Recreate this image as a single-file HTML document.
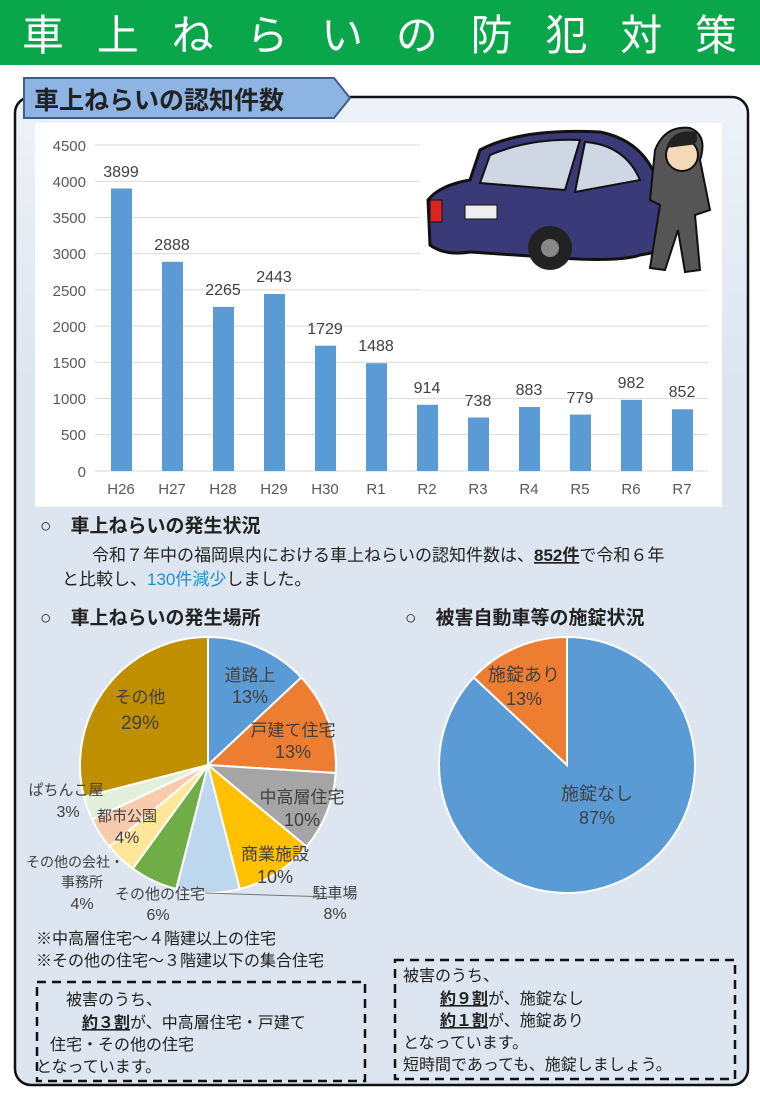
<!DOCTYPE html>
<html><head><meta charset="utf-8"><style>
body{margin:0;width:760px;height:1100px;background:#fff;overflow:hidden;font-family:"Liberation Sans","Noto Sans CJK JP",sans-serif;}
svg text{font-family:"Liberation Sans","Noto Sans CJK JP",sans-serif;}
</style></head><body>
<svg width="760" height="1100" viewBox="0 0 760 1100" xmlns="http://www.w3.org/2000/svg">
<defs><linearGradient id="bg" x1="0" y1="0" x2="0" y2="1"><stop offset="0" stop-color="#eef2f8"/><stop offset="0.3" stop-color="#dce5f0"/><stop offset="1" stop-color="#dce5f0"/></linearGradient></defs>
<rect x="0" y="0" width="760" height="65" fill="#0aa64a"/>
<text x="22" y="50" font-size="42" fill="#fff" letter-spacing="0" textLength="715">車 上 ね ら い の 防 犯 対 策</text>
<rect x="15" y="97" width="733" height="988" rx="16" fill="url(#bg)" stroke="#111" stroke-width="2.5"/>
<polygon points="24,78 334,78 350,98 334,118 24,118" fill="#8db4e2" stroke="#3f5f8a" stroke-width="2"/>
<text x="34" y="109" font-size="25" font-weight="bold" fill="#222">車上ねらいの認知件数</text>
<rect x="35" y="123" width="687" height="384" fill="#fff"/>
<g font-size="15" fill="#595959">
<g stroke="#d9d9d9" stroke-width="1">
<line x1="95" y1="145" x2="708" y2="145"/><line x1="95" y1="181.2" x2="708" y2="181.2"/><line x1="95" y1="217.4" x2="708" y2="217.4"/><line x1="95" y1="253.7" x2="708" y2="253.7"/><line x1="95" y1="289.9" x2="708" y2="289.9"/><line x1="95" y1="326.1" x2="708" y2="326.1"/><line x1="95" y1="362.3" x2="708" y2="362.3"/><line x1="95" y1="398.6" x2="708" y2="398.6"/><line x1="95" y1="434.8" x2="708" y2="434.8"/><line x1="95" y1="471" x2="708" y2="471"/>
</g>
<g text-anchor="end">
<text x="86" y="151">4500</text><text x="86" y="187">4000</text><text x="86" y="223">3500</text><text x="86" y="259">3000</text><text x="86" y="296">2500</text><text x="86" y="332">2000</text><text x="86" y="368">1500</text><text x="86" y="404">1000</text><text x="86" y="440">500</text><text x="86" y="477">0</text>
</g>
<g fill="#5b9bd5">
<rect x="111" y="188.5" width="21" height="282.5"/>
<rect x="162" y="261.8" width="21" height="209.2"/>
<rect x="213" y="306.9" width="21" height="164.1"/>
<rect x="264" y="294" width="21" height="177"/>
<rect x="315" y="345.7" width="21" height="125.3"/>
<rect x="366" y="363.2" width="21" height="107.8"/>
<rect x="417" y="404.8" width="21" height="66.2"/>
<rect x="468" y="417.5" width="21" height="53.5"/>
<rect x="519" y="407" width="21" height="64"/>
<rect x="570" y="414.6" width="21" height="56.4"/>
<rect x="621" y="399.9" width="21" height="71.1"/>
<rect x="672" y="409.3" width="21" height="61.7"/>
</g>
<g text-anchor="middle" font-size="16" fill="#404040">
<text x="121" y="177">3899</text><text x="172" y="250">2888</text><text x="223" y="295">2265</text><text x="274" y="282">2443</text><text x="325" y="334">1729</text><text x="376" y="351">1488</text><text x="427" y="393">914</text><text x="478" y="406">738</text><text x="529" y="395">883</text><text x="580" y="403">779</text><text x="631" y="388">982</text><text x="682" y="397">852</text>
</g>
<g text-anchor="middle">
<text x="121" y="494">H26</text><text x="172" y="494">H27</text><text x="223" y="494">H28</text><text x="274" y="494">H29</text><text x="325" y="494">H30</text><text x="376" y="494">R1</text><text x="427" y="494">R2</text><text x="478" y="494">R3</text><text x="529" y="494">R4</text><text x="580" y="494">R5</text><text x="631" y="494">R6</text><text x="682" y="494">R7</text>
</g>
</g>
<!-- car illustration -->
<rect x="420" y="123" width="302" height="167" fill="#fff"/>
<path d="M430,245 L428,200 Q440,185 470,180 L480,150 Q520,128 600,132 Q640,140 655,175 L665,205 L668,250 L640,255 Q620,262 560,258 L470,252 Q445,256 430,245Z" fill="#3b3a78" stroke="#111" stroke-width="3"/>
<path d="M490,155 Q530,138 580,140 L565,190 L480,183Z" fill="#cfd6e4" stroke="#111" stroke-width="2"/>
<path d="M585,142 Q625,145 640,180 L575,192Z" fill="#cfd6e4" stroke="#111" stroke-width="2"/>
<rect x="430" y="200" width="12" height="22" fill="#d22" stroke="#111"/>
<rect x="465" y="205" width="32" height="14" fill="#eee" stroke="#111"/>
<circle cx="550" cy="248" r="22" fill="#222"/><circle cx="550" cy="248" r="9" fill="#888"/>
<path d="M655,150 Q665,125 690,128 Q708,135 700,160 L710,210 L695,215 L700,270 L685,272 L678,230 L665,270 L650,268 L660,205 L650,200Z" fill="#555" stroke="#111" stroke-width="2"/>
<circle cx="682" cy="155" r="16" fill="#f4d8b8" stroke="#111" stroke-width="2"/>
<path d="M666,148 Q672,128 696,132 Q700,145 690,145Z" fill="#222"/>
<!-- text section -->
<g fill="#222">
<text x="40" y="532" font-size="19" font-weight="bold">○　車上ねらいの発生状況</text>
<text x="92" y="561" font-size="17">令和７年中の福岡県内における車上ねらいの認知件数は、<tspan font-weight="bold" text-decoration="underline">852件</tspan>で令和６年</text>
<text x="62" y="585" font-size="17">と比較し、<tspan fill="#1f8fd0">130件減少</tspan>しました。</text>
<text x="40" y="624" font-size="19" font-weight="bold">○　車上ねらいの発生場所</text>
<text x="405" y="624" font-size="19" font-weight="bold">○　被害自動車等の施錠状況</text>
</g>
<!-- pie 1 -->
<g stroke="#fff" stroke-width="2">
<path d="M208,765 L208,637 A128,128 0 0 1 301.3,677.4Z" fill="#5b9bd5"/>
<path d="M208,765 L301.3,677.4 A128,128 0 0 1 335.7,773Z" fill="#ed7d31"/>
<path d="M208,765 L335.7,773 A128,128 0 0 1 306.6,846.6Z" fill="#a5a5a5"/>
<path d="M208,765 L306.6,846.6 A128,128 0 0 1 239.8,889Z" fill="#ffc000"/>
<path d="M208,765 L239.8,889 A128,128 0 0 1 176.2,889Z" fill="#bdd7ee"/>
<path d="M208,765 L176.2,889 A128,128 0 0 1 132.8,868.6Z" fill="#70ad47"/>
<path d="M208,765 L132.8,868.6 A128,128 0 0 1 109.4,846.6Z" fill="#ffe699"/>
<path d="M208,765 L109.4,846.6 A128,128 0 0 1 92.2,819.5Z" fill="#f8cbad"/>
<path d="M208,765 L92.2,819.5 A128,128 0 0 1 84,796.8Z" fill="#e2efda"/>
<path d="M208,765 L84,796.8 A128,128 0 0 1 208,637Z" fill="#bf8f00"/>
</g>
<line x1="205" y1="893" x2="330" y2="897" stroke="#777"/>
<g font-size="17" fill="#404040" text-anchor="middle">
<text x="250" y="681">道路上</text><text x="250" y="703" font-size="18">13%</text>
<text x="293" y="736">戸建て住宅</text><text x="293" y="758" font-size="18">13%</text>
<text x="302" y="803">中高層住宅</text><text x="302" y="826" font-size="18">10%</text>
<text x="275" y="860">商業施設</text><text x="275" y="883" font-size="18">10%</text>
<text x="335" y="898" font-size="15">駐車場</text><text x="335" y="919" font-size="16">8%</text>
<text x="160" y="899" font-size="15">その他の住宅</text><text x="158" y="920" font-size="16">6%</text>
<text x="75" y="867" font-size="14">その他の会社・</text><text x="82" y="887" font-size="14">事務所</text><text x="82" y="909" font-size="16">4%</text>
<text x="127" y="821" font-size="15">都市公園</text><text x="127" y="843" font-size="17">4%</text>
<text x="66" y="795" font-size="15">ぱちんこ屋</text><text x="68" y="817" font-size="16">3%</text>
<text x="140" y="703">その他</text><text x="140" y="729" font-size="19">29%</text>
</g>
<!-- pie 2 -->
<g stroke="#fff" stroke-width="2">
<path d="M567,765 L567,637 A128,128 0 1 1 473.7,677.4Z" fill="#5b9bd5"/>
<path d="M567,765 L473.7,677.4 A128,128 0 0 1 567,637Z" fill="#ed7d31"/>
</g>
<g font-size="18" fill="#404040" text-anchor="middle">
<text x="524" y="681">施錠あり</text><text x="524" y="705">13%</text>
<text x="597" y="800">施錠なし</text><text x="597" y="824">87%</text>
</g>
<g fill="#222" font-size="16">
<text x="36" y="944">※中高層住宅～４階建以上の住宅</text>
<text x="36" y="966">※その他の住宅～３階建以下の集合住宅</text>
</g>
<rect x="37" y="982" width="328" height="99" fill="none" stroke="#111" stroke-width="2.5" stroke-dasharray="9,6"/>
<g fill="#222" font-size="16">
<text x="66" y="1005">被害のうち、</text>
<text x="82" y="1028"><tspan font-weight="bold" text-decoration="underline">約３割</tspan>が、中高層住宅・戸建て</text>
<text x="50" y="1050">住宅・その他の住宅</text>
<text x="36" y="1072">となっています。</text>
</g>
<rect x="395" y="960" width="340" height="119" fill="none" stroke="#111" stroke-width="2.5" stroke-dasharray="9,6"/>
<g fill="#222" font-size="16">
<text x="403" y="981">被害のうち、</text>
<text x="440" y="1004"><tspan font-weight="bold" text-decoration="underline">約９割</tspan>が、施錠なし</text>
<text x="440" y="1026"><tspan font-weight="bold" text-decoration="underline">約１割</tspan>が、施錠あり</text>
<text x="403" y="1048">となっています。</text>
<text x="403" y="1070">短時間であっても、施錠しましょう。</text>
</g>
</svg>
</body></html>
